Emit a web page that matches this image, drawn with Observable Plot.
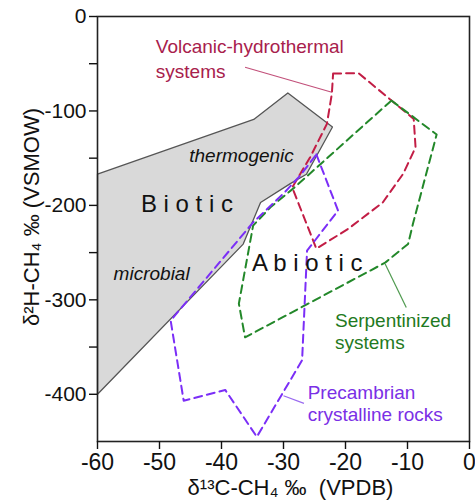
<!DOCTYPE html>
<html><head><meta charset="utf-8">
<script src="https://cdn.jsdelivr.net/npm/d3@7"></script>
<script src="https://cdn.jsdelivr.net/npm/@observablehq/plot@0.6"></script>
<style>
body{margin:0;background:#fff;}
svg{font-family:"Liberation Sans",Arial,sans-serif;}
</style>
</head><body><div id="chart"></div>
<script>
// ---- data ----
const xTicks = [-60, -50, -40, -30, -20, -10, 0];
const yTicks = [0, -100, -200, -300, -400];
const yMinorTicks = [-50, -150, -250, -350];
const xLabel = "δ¹³C-CH₄ ‰  (VPDB)";
const yLabel = "δ²H-CH₄ ‰ (VSMOW)";

// field outlines [δ13C, δ2H]
const biotic = [[-60,-167],[-34.8,-109],[-29.3,-81],[-22.1,-117],[-26.3,-167],[-28.9,-177],[-33.7,-197],[-36.5,-241],[-60,-400]];
const volcanic = [[-22.0,-60.4],[-17.9,-60],[-9.0,-108.4],[-8.7,-138.5],[-10.7,-166.6],[-14.0,-197],[-19.6,-225],[-24.7,-245.8],[-28.6,-181],[-25.7,-149],[-23.0,-113.7],[-22.2,-81.9]];
const serpentinized = [[-12.6,-89],[-5.3,-125],[-9.1,-219],[-9.9,-240.8],[-13.6,-260.6],[-36.2,-339.7],[-37.2,-304],[-34.9,-221.4],[-32.1,-202],[-28.4,-182]];
const precambrian = [[-24.7,-146],[-21.2,-205.5],[-26.2,-248],[-27.0,-364],[-34.3,-445],[-39.4,-395.4],[-46.1,-406.8],[-48.2,-322],[-34.9,-218],[-30.0,-187.5],[-27.3,-168.4]];

// annotations (data coordinates)
const volcanicLabel = [{text:"Volcanic-hydrothermal", x:-50.6, y:-32.7},{text:"systems", x:-50.6, y:-58.2}];
const serpLabel = [{text:"Serpentinized", x:-21.7, y:-322.7},{text:"systems", x:-21.7, y:-345.5}];
const precLabel = [{text:"Precambrian", x:-26.1, y:-398.5},{text:"crystalline rocks", x:-26.1, y:-421.5}];
const italicLabels = [{text:"thermogenic", x:-45.2, y:-147.9},{text:"microbial", x:-57.4, y:-272.1}];
const bigLabels = [{text:"B i o t i c", x:-53.0, y:-198.4},{text:"A b i o t i c", x:-35.1, y:-261.7}];
const leaderVolcanic = [{x1:-36.2, y1:-53.7, x2:-22.2, y2:-80.2}];
const leaderSerp = [{x1:-13.6, y1:-262, x2:-10.2, y2:-308}];
const leaderPrec = [{x1:-30.0, y1:-401.5, x2:-26.7, y2:-409.6}];

// ---- styles ----
const RED = "#c21d45", RED_TXT = "#a8204c";
const GREEN = "#23882a", GREEN_TXT = "#1f7a22";
const PURPLE = "#7b2ef7", PURPLE_TXT = "#7a2fe6";
const closed = a => a.concat([a[0]]);
const px = d => d[0], py = d => d[1];
const dashed = (data, color) => Plot.line(closed(data), {x: px, y: py, stroke: color, strokeWidth: 2, strokeDasharray: "8,5", curve: "linear"});
const labelText = (data, color, opts = {}) => Plot.text(data, {x: "x", y: "y", text: "text", fill: color, textAnchor: "start", fontSize: 19, ...opts});

const chart = Plot.plot({
  width: 475, height: 500,
  marginLeft: 97, marginRight: 6, marginTop: 16, marginBottom: 59,
  x: {domain: [-60, 0]},
  y: {domain: [-450, 0]},
  style: {fontFamily: "Liberation Sans, Arial, sans-serif", background: "#fff", color: "#111"},
  marks: [
    Plot.line(closed(biotic), {x: px, y: py, fill: "#d9d9d9", stroke: "#555", strokeWidth: 1.3}),
    dashed(volcanic, RED),
    dashed(serpentinized, GREEN),
    dashed(precambrian, PURPLE),
    Plot.link(leaderVolcanic, {x1: "x1", y1: "y1", x2: "x2", y2: "y2", stroke: "#c2507a", strokeWidth: 1.2}),
    Plot.link(leaderSerp, {x1: "x1", y1: "y1", x2: "x2", y2: "y2", stroke: "#4f9a4f", strokeWidth: 1.2}),
    Plot.link(leaderPrec, {x1: "x1", y1: "y1", x2: "x2", y2: "y2", stroke: "#9a6af0", strokeWidth: 1.2}),
    labelText(volcanicLabel, RED_TXT),
    labelText(serpLabel, GREEN_TXT),
    labelText(precLabel, PURPLE_TXT),
    labelText(italicLabels, "#111", {fontStyle: "italic"}),
    labelText(bigLabels, "#111", {fontSize: 24}),
    Plot.frame({stroke: "#222", strokeWidth: 1.6}),
    Plot.axisX(xTicks, {tickSize: 8, tickPadding: 4, fontSize: 23, tickFormat: d => String(d), label: null, strokeWidth: 1.4}),
    Plot.axisY(yTicks, {tickSize: 8, tickPadding: 3, fontSize: 21, tickFormat: d => String(d), label: null, strokeWidth: 1.4}),
    Plot.axisY(yMinorTicks, {tickSize: 8, tickFormat: () => "", label: null, strokeWidth: 1.4}),
    Plot.text([xLabel], {frameAnchor: "bottom", text: d => d, fontSize: 22, textAnchor: "middle", lineAnchor: "middle", dx: 7, dy: 46}),
    Plot.text([yLabel], {frameAnchor: "left", text: d => d, fontSize: 22, textAnchor: "middle", lineAnchor: "middle", rotate: -90, dx: -66, dy: -12}),
  ]
});
document.getElementById("chart").appendChild(chart);
</script>
</body></html>
